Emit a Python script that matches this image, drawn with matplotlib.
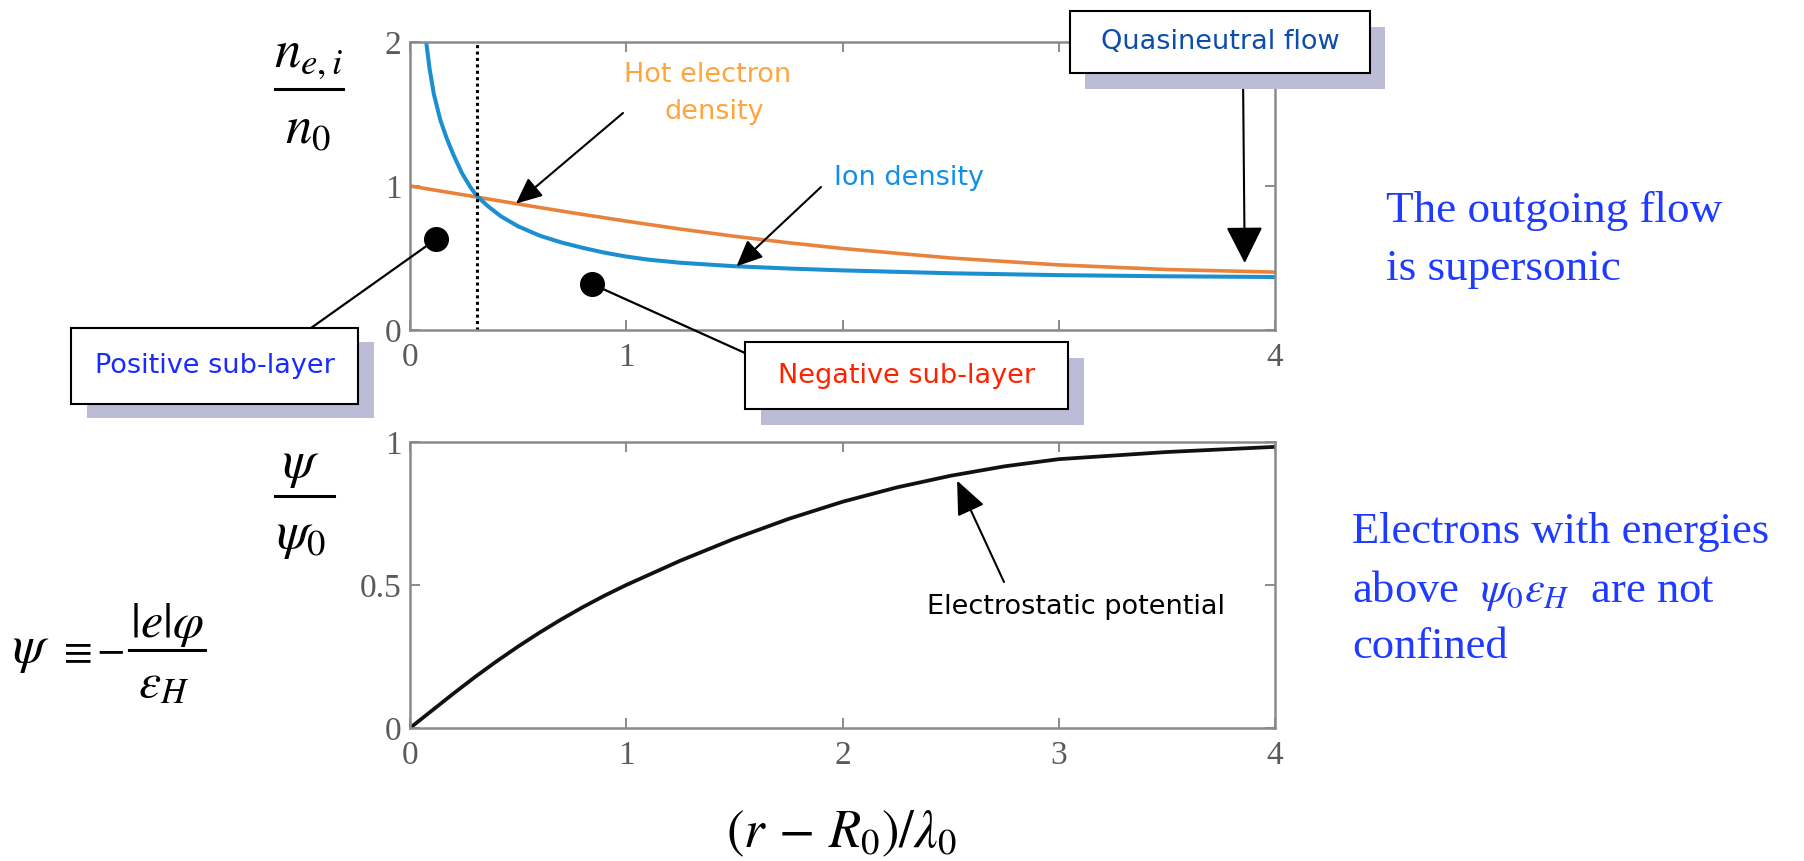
import numpy as np
import matplotlib
matplotlib.use('Agg')
import matplotlib.pyplot as plt
from matplotlib.patches import Rectangle, ConnectionPatch

# ---------------- data ----------------
x_ion = [0.075, 0.09, 0.11, 0.14, 0.17, 0.20, 0.24, 0.28, 0.31, 0.36, 0.42, 0.50, 0.60,
         0.70, 0.80, 0.90, 1.00, 1.10, 1.25, 1.50, 1.75, 2.00, 2.50, 3.00, 3.50, 4.00]
n_ion = [2.00, 1.82, 1.64, 1.46, 1.33, 1.22, 1.09, 0.99, 0.93, 0.86, 0.79, 0.72, 0.655,
         0.608, 0.570, 0.537, 0.510, 0.489, 0.467, 0.443, 0.427, 0.414, 0.394, 0.381, 0.373, 0.368]

x_elec = [0.00, 0.25, 0.50, 0.75, 1.00, 1.25, 1.50, 1.75, 2.00, 2.50, 3.00, 3.50, 4.00]
n_elec = [1.000, 0.938, 0.875, 0.814, 0.756, 0.701, 0.651, 0.606, 0.566, 0.500, 0.452, 0.420, 0.402]

x_psi = [0.0, 0.1, 0.2, 0.3, 0.4, 0.5, 0.6, 0.7, 0.8, 0.9, 1.0, 1.25, 1.5, 1.75, 2.0,
         2.25, 2.5, 2.75, 3.0, 3.5, 4.0]
psi = [0.0, 0.06, 0.12, 0.178, 0.233, 0.285, 0.334, 0.38, 0.423, 0.463, 0.50, 0.585, 0.662,
       0.731, 0.791, 0.841, 0.882, 0.915, 0.94, 0.965, 0.983]

x_ticks = [0, 1, 2, 3, 4]
top_xtick_labels = ['0', '1', '', '', '4']     # 2 and 3 are hidden by a box in the original
bot_xtick_labels = ['0', '1', '2', '3', '4']
top_yticks = [0, 1, 2]
top_ytick_labels = ['0', '1', '2']
bot_yticks = [0, 0.5, 1]
bot_ytick_labels = ['0', '0.5', '1']

sonic_x = 0.31                 # dotted vertical line
dot_x = [0.12, 0.84]           # black dots (positive / negative sub-layer)
dot_y = [0.63, 0.32]
hot_arrow_x = 0.49             # arrow tips on the curves
ion_arrow_x = 1.51
quasi_arrow = (3.86, 0.465)
pot_arrow = (2.53, 0.865)

# ---------------- styling ----------------
W, H = 1804, 861
plt.rcParams['font.family'] = ['Liberation Serif', 'DejaVu Serif']
plt.rcParams['mathtext.fontset'] = 'stix'

C_BLUE = '#1b8fcf'
C_ORANGE = '#e9823b'
C_SPINE = '#8a8a8a'
C_TICKLBL = '#5a5a5a'
C_SHADOW = '#bcbcd6'
SANS = ['DejaVu Sans']

fig = plt.figure(figsize=(W / 100, H / 100), dpi=100)


def fx(px):
    return px / W


def fy(py):
    return 1 - py / H


ax1 = fig.add_axes([fx(410), fy(330), (1275 - 410) / W, (330 - 42) / H])
ax2 = fig.add_axes([fx(410), fy(728), (1275 - 410) / W, (728 - 442) / H])

for ax, xl in ((ax1, top_xtick_labels), (ax2, bot_xtick_labels)):
    for s in ax.spines.values():
        s.set_color(C_SPINE)
        s.set_linewidth(1.8)
    ax.set_xlim(0, 4)
    ax.set_xticks(x_ticks)
    ax.set_xticklabels(xl)
    ax.tick_params(which='both', direction='in', length=7, width=1.4, colors=C_SPINE,
                   top=True, right=True, labelsize=24, labelcolor=C_TICKLBL)
    ax.tick_params(axis='x', pad=9)
    ax.tick_params(axis='y', pad=6)

ax1.set_ylim(0, 2)
ax1.set_yticks(top_yticks)
ax1.set_yticklabels(top_ytick_labels)
ax2.set_ylim(0, 1)
ax2.set_yticks(bot_yticks)
ax2.set_yticklabels(bot_ytick_labels)

# curves
ax1.plot(x_elec, n_elec, color=C_ORANGE, lw=2.6, solid_capstyle='butt')
ax1.plot(x_ion, n_ion, color=C_BLUE, lw=2.9, solid_capstyle='butt')
ax1.plot([sonic_x, sonic_x], [0, 2], color='black', lw=2.2, ls=(0, (1, 1.1)))
ax1.plot(dot_x, dot_y, 'o', color='black', markersize=17, clip_on=False, zorder=4)
ax2.plot(x_psi, psi, color='#111111', lw=2.7)

# ---------------- arrows ----------------
def arrow(ax, xy, xytext, hl, hw):
    ax.annotate('', xy=xy, xycoords='data', xytext=xytext, textcoords='figure fraction',
                annotation_clip=False,
                arrowprops=dict(arrowstyle='-|>,head_length=%g,head_width=%g' % (hl, hw),
                                color='black', lw=1.5, mutation_scale=20,
                                shrinkA=0, shrinkB=0))


arrow(ax1, (hot_arrow_x, np.interp(hot_arrow_x, x_elec, n_elec)), (fx(623), fy(113)), 0.8, 0.36)
arrow(ax1, (ion_arrow_x, np.interp(ion_arrow_x, x_ion, n_ion)), (fx(821), fy(187)), 0.8, 0.36)
arrow(ax1, quasi_arrow, (fx(1243), fy(73)), 1.15, 0.58)
arrow(ax2, pot_arrow, (fx(1004), fy(582)), 1.05, 0.45)

# lines from dots to boxes
for (dx, dy), (bx, by) in zip(zip(dot_x, dot_y), [(311, 328), (745, 353)]):
    con = ConnectionPatch(xyA=(dx, dy), coordsA=ax1.transData,
                          xyB=(fx(bx), fy(by)), coordsB=fig.transFigure,
                          color='black', lw=1.6, zorder=3)
    fig.add_artist(con)

# ---------------- boxes ----------------
def box(x0, y0, x1, y1, dx, dy, text, color):
    sh = Rectangle((fx(x0 + dx), fy(y1 + dy)), (x1 - x0) / W, (y1 - y0) / H,
                   transform=fig.transFigure, facecolor=C_SHADOW, edgecolor='none', zorder=5)
    bx = Rectangle((fx(x0), fy(y1)), (x1 - x0) / W, (y1 - y0) / H,
                   transform=fig.transFigure, facecolor='white', edgecolor='black',
                   lw=1.5, zorder=6)
    fig.add_artist(sh)
    fig.add_artist(bx)
    fig.text(fx((x0 + x1) / 2), fy((y0 + y1) / 2), text, ha='center', va='center',
             fontsize=19.5, color=color, family=SANS, zorder=7)


box(1070, 11, 1370, 73, 15, 16, 'Quasineutral flow', '#0d4dad')
box(71, 328, 358, 404, 16, 14, 'Positive sub-layer', '#1a2bff')
box(745, 342, 1068, 409, 16, 16, 'Negative sub-layer', '#ff2200')

# ---------------- labels in the plot area ----------------
fig.text(fx(708), fy(75), 'Hot electron', ha='center', va='center', fontsize=19.5,
         color='#ffa53f', family=SANS)
fig.text(fx(714), fy(112), 'density', ha='center', va='center', fontsize=19.5,
         color='#ffa53f', family=SANS)
fig.text(fx(834), fy(178), 'Ion density', ha='left', va='center', fontsize=19.5,
         color='#1390e6', family=SANS)
fig.text(fx(1076), fy(607), 'Electrostatic potential', ha='center', va='center',
         fontsize=19.5, color='black', family=SANS)

# ---------------- math labels ----------------
def hbar(x0, x1, y, lw=2.2):
    fig.add_artist(plt.Line2D([fx(x0), fx(x1)], [fy(y), fy(y)], transform=fig.transFigure,
                              color='black', lw=lw))


fig.text(fx(309), fy(67), r'$n_{e,i}$', ha='center', va='baseline', fontsize=38)
hbar(275, 343, 89)
fig.text(fx(308), fy(143), r'$n_0$', ha='center', va='baseline', fontsize=38)

fig.text(fx(301), fy(477), r'$\psi$', ha='center', va='baseline', fontsize=38)
hbar(275, 334, 496)
fig.text(fx(301), fy(548), r'$\psi_0$', ha='center', va='baseline', fontsize=38)

# psi definition
fig.text(fx(31), fy(662), r'$\psi$', ha='center', va='baseline', fontsize=38)
fig.text(fx(74), fy(653), r'$\equiv$', ha='center', va='center', fontsize=30)
fig.text(fx(110), fy(651), r'$-$', ha='center', va='center', fontsize=30)
fig.text(fx(167), fy(637), r'$|e|\varphi$', ha='center', va='baseline', fontsize=36)
hbar(129, 205, 650)
fig.text(fx(164), fy(697), r'$\varepsilon_H$', ha='center', va='baseline', fontsize=36)

# x label
fig.text(fx(842), fy(847), r'$\left(r\,-\,R_0\right)/\lambda_0$', ha='center', va='baseline',
         fontsize=38)

# ---------------- right-hand text ----------------
C_RT = '#1f3bff'
fig.text(fx(1386), fy(222), 'The outgoing flow', fontsize=32.5, color=C_RT, va='baseline')
fig.text(fx(1386), fy(280), 'is supersonic', fontsize=32.5, color=C_RT, va='baseline')
fig.text(fx(1352), fy(543), 'Electrons with energies', fontsize=32, color=C_RT, va='baseline')
fig.text(fx(1352), fy(602), r'above  $\psi_0\varepsilon_H$  are not', fontsize=32,
         color=C_RT, va='baseline')
fig.text(fx(1352), fy(658), 'confined', fontsize=32, color=C_RT, va='baseline')

fig.savefig('out.png', dpi=100)
